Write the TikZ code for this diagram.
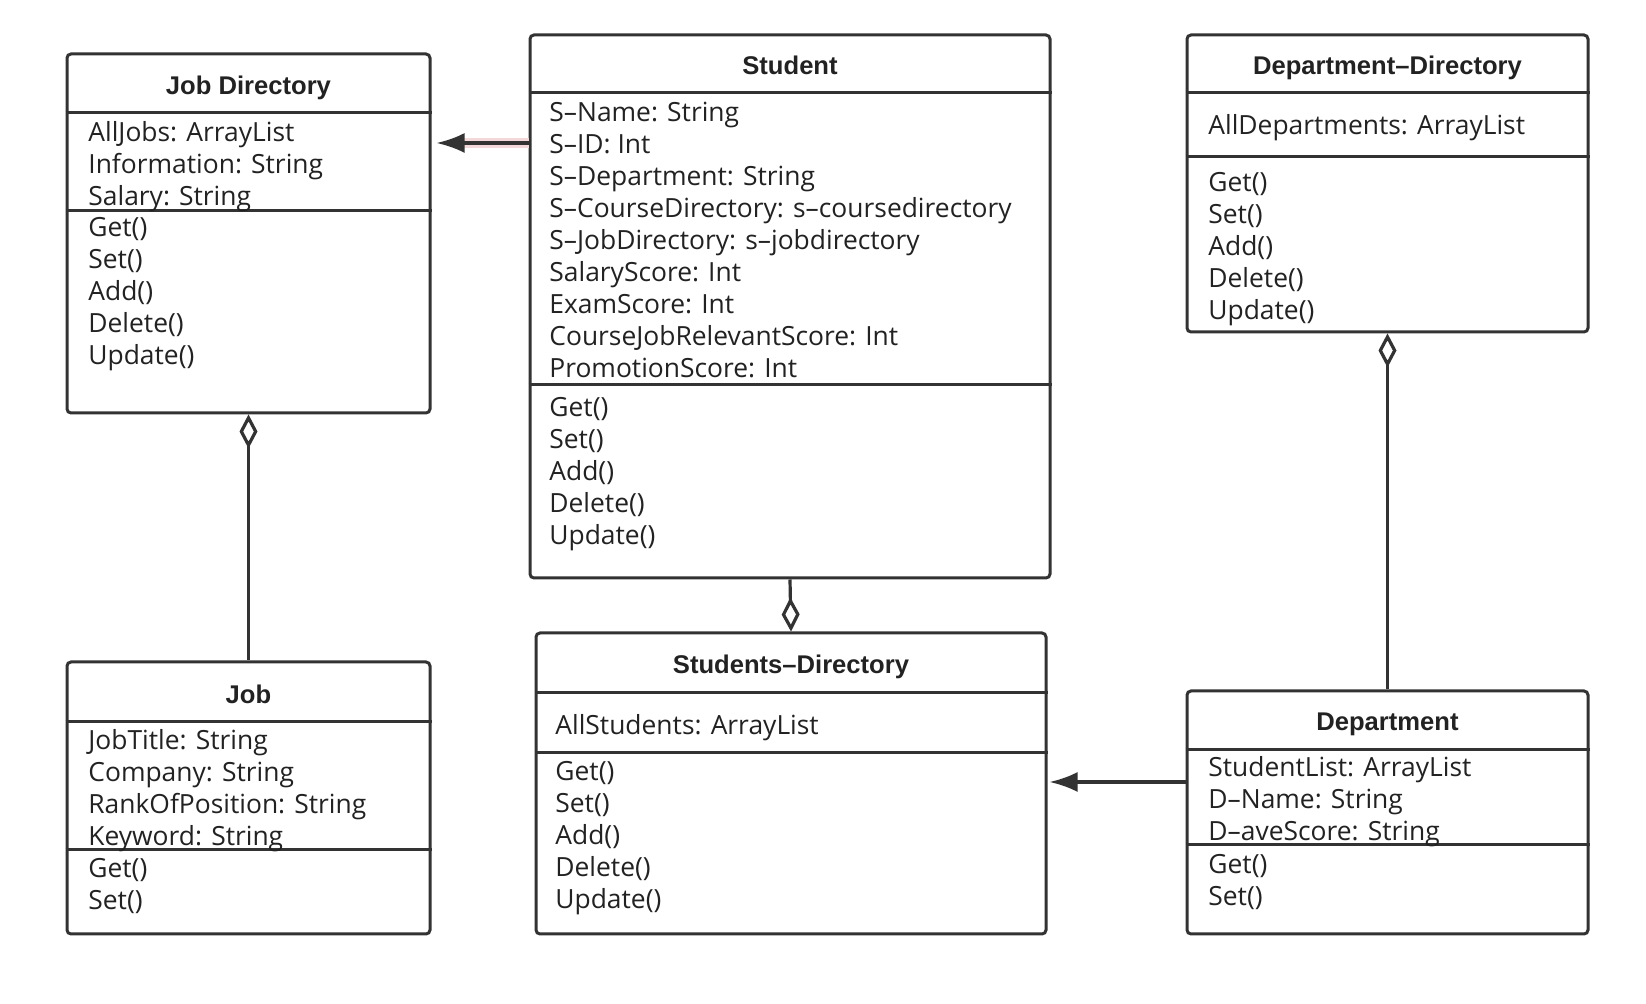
\documentclass[tikz,border=0pt]{standalone}
\usepackage{fontspec}
\setmainfont{Open Sans}
\newfontfamily\headfont{Liberation Sans}
\usetikzlibrary{arrows.meta,fit}

\definecolor{ink}{HTML}{333333}
\definecolor{txt}{HTML}{222222}
\definecolor{halo}{HTML}{F2D8D8}

\tikzset{
  classbox/.style={draw=ink, line width=1.5pt, rounded corners=2pt, inner sep=0pt, fill=white},
  divider/.style={draw=ink, line width=1.5pt},
  member/.style={anchor=base west, inner sep=0pt, yshift=-1pt, text=txt, font=\fontsize{13.2pt}{16pt}\selectfont},
  heading/.style={anchor=base, inner sep=0pt, yshift=-1pt, text=txt, font=\headfont\bfseries\fontsize{12.8pt}{15pt}\selectfont},
  assoc/.style={draw=ink, line width=1.6pt, -{Latex[length=14pt,width=10pt]}},
  aggstart/.style={draw=ink, line width=1.6pt, {Diamond[open,fill=white,length=17pt,width=9pt]}-},
  aggend/.style={draw=ink, line width=1.6pt, -{Diamond[open,fill=white,length=17pt,width=9pt]}}
}

\begin{document}
\begin{tikzpicture}[x=0.5pt,y=-0.5pt]
\useasboundingbox[fill=white] (0,0) rectangle (1646,1004);

% ---- Job Directory ----
\node[classbox, fit={(67,54)(430,413)}] (jd) {};
\draw[divider] (jd.west |- 0,113) -- (jd.east |- 0,113);
\draw[divider] (jd.west |- 0,211) -- (jd.east |- 0,211);
\node[heading] (jd-title) at (248.5,93) {Job Directory};
\foreach \t [count=\i] in {AllJobs: ArrayList, Information: String, Salary: String}
  \node[member] (jd-a\i) at (88,140+32*\i-32) {\t};
\foreach \t [count=\i] in {Get(), Set(), Add(), Delete(), Update()}
  \node[member] (jd-m\i) at (88,235+32*\i-32) {\t};

% ---- Student ----
\node[classbox, fit={(530,35)(1050,578)}] (st) {};
\draw[divider] (st.west |- 0,93) -- (st.east |- 0,93);
\draw[divider] (st.west |- 0,385) -- (st.east |- 0,385);
\node[heading] (st-title) at (790,73) {Student};
\foreach \t [count=\i] in {S–Name: String, S–ID: Int, S–Department: String,
    S–CourseDirectory: s–coursedirectory, S–JobDirectory: s–jobdirectory,
    SalaryScore: Int, ExamScore: Int, CourseJobRelevantScore: Int, PromotionScore: Int}
  \node[member] (st-a\i) at (549,120+32*\i-32) {\t};
\foreach \t [count=\i] in {Get(), Set(), Add(), Delete(), Update()}
  \node[member] (st-m\i) at (549,415+32*\i-32) {\t};

% ---- Department-Directory ----
\node[classbox, fit={(1187,35)(1588,332)}] (dd) {};
\draw[divider] (dd.west |- 0,93) -- (dd.east |- 0,93);
\draw[divider] (dd.west |- 0,157) -- (dd.east |- 0,157);
\node[heading] (dd-title) at (1387.5,73) {Department–Directory};
\node[member] (dd-a1) at (1208,133) {AllDepartments: ArrayList};
\foreach \t [count=\i] in {Get(), Set(), Add(), Delete(), Update()}
  \node[member] (dd-m\i) at (1208,190+32*\i-32) {\t};

% ---- Job ----
\node[classbox, fit={(67,662)(430,934)}] (job) {};
\draw[divider] (job.west |- 0,722) -- (job.east |- 0,722);
\draw[divider] (job.west |- 0,850) -- (job.east |- 0,850);
\node[heading] (job-title) at (248.5,702) {Job};
\foreach \t [count=\i] in {JobTitle: String, Company: String, RankOfPosition: String, Keyword: String}
  \node[member] (job-a\i) at (88,748+32*\i-32) {\t};
\foreach \t [count=\i] in {Get(), Set()}
  \node[member] (job-m\i) at (88,876+32*\i-32) {\t};

% ---- Students-Directory ----
\node[classbox, fit={(536,633)(1046,934)}] (sd) {};
\draw[divider] (sd.west |- 0,693) -- (sd.east |- 0,693);
\draw[divider] (sd.west |- 0,753) -- (sd.east |- 0,753);
\node[heading] (sd-title) at (791,672) {Students–Directory};
\node[member] (sd-a1) at (555,733) {AllStudents: ArrayList};
\foreach \t [count=\i] in {Get(), Set(), Add(), Delete(), Update()}
  \node[member] (sd-m\i) at (555,779+32*\i-32) {\t};

% ---- Department ----
\node[classbox, fit={(1187,691)(1588,934)}] (dep) {};
\draw[divider] (dep.west |- 0,750) -- (dep.east |- 0,750);
\draw[divider] (dep.west |- 0,845) -- (dep.east |- 0,845);
\node[heading] (dep-title) at (1387.5,729) {Department};
\foreach \t [count=\i] in {StudentList: ArrayList, D–Name: String, D–aveScore: String}
  \node[member] (dep-a\i) at (1208,775+32*\i-32) {\t};
\foreach \t [count=\i] in {Get(), Set()}
  \node[member] (dep-m\i) at (1208,872+32*\i-32) {\t};

% ---- Connectors ----
\draw[halo, line width=5pt, shorten >=16pt] (st.west |- 0,143) -- (jd.east |- 0,143);
\draw[assoc, shorten >=2.5pt] (st.west |- 0,143) -- (jd.east |- 0,143);
\draw[aggstart] (jd.south) -- (job.north);
\draw[aggend] (st.south) -- (sd.north);
\draw[aggstart] (dd.south) -- (dep.north);
\draw[assoc, shorten >=1pt] (dep.west |- 0,782) -- (sd.east |- 0,782);
\end{tikzpicture}
\end{document}
